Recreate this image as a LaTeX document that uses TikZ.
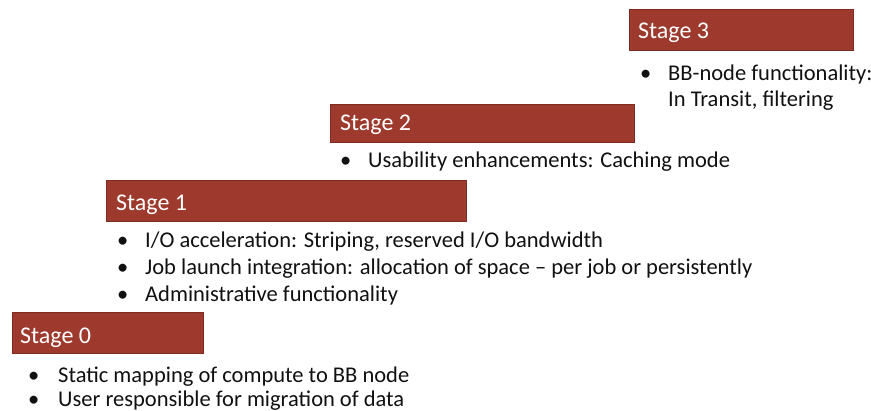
\documentclass[tikz,border=0pt]{standalone}
\usepackage{fontspec}
\setmainfont{Carlito}
\definecolor{boxred}{HTML}{9D3A2D}
\definecolor{boxedge}{HTML}{7E2C21}
\definecolor{txt}{HTML}{111111}
\begin{document}
\begin{tikzpicture}[x=1pt,y=1pt,
  stagebox/.style={draw=boxedge,line width=0.6pt,fill=boxred,inner sep=0pt,anchor=north west},
  stagelabel/.style={anchor=base west,inner sep=0pt,text=white,font=\fontsize{24}{28}\selectfont},
  bul/.style={anchor=base west,inner sep=0pt,text=txt,font=\fontsize{22.5}{26}\selectfont},
  bulletdot/.style={anchor=base west,inner sep=0pt,text=txt,font=\fontsize{22.5}{26}\selectfont}]
\useasboundingbox[fill=white] (0,0) rectangle (871,-411);
% Stage 3
\node[stagebox,minimum width=224,minimum height=41] (s3) at (629,-9) {};
\node[stagelabel] (s3t) at (638,-39) {Stage 3};
\node[bulletdot] (b3a) at (640,-81) {•};
\node[bul] (t3a) at (668,-81) {BB-node functionality:};
\node[bul] (t3b) at (668,-107) {In Transit, filtering};
% Stage 2
\node[stagebox,minimum width=304,minimum height=38] (s2) at (330,-104) {};
\node[stagelabel] (s2t) at (340,-131) {Stage 2};
\node[bulletdot] (b2a) at (340,-168) {•};
\node[bul] (t2a) at (368,-168) {Usability enhancements: Caching mode};
% Stage 1
\node[stagebox,minimum width=360,minimum height=41] (s1) at (106,-180) {};
\node[stagelabel] (s1t) at (116,-211) {Stage 1};
\node[bulletdot] (b1a) at (117,-248) {•};
\node[bul] (t1a) at (145,-248) {I/O acceleration: Striping, reserved I/O bandwidth};
\node[bulletdot] (b1b) at (117,-275) {•};
\node[bul] (t1b) at (145,-275) {Job launch integration: allocation of space – per job or persistently};
\node[bulletdot] (b1c) at (117,-302) {•};
\node[bul] (t1c) at (145,-302) {Administrative functionality};
% Stage 0
\node[stagebox,minimum width=191,minimum height=41] (s0) at (12,-312) {};
\node[stagelabel] (s0t) at (20,-344) {Stage 0};
\node[bulletdot] (b0a) at (28,-383) {•};
\node[bul] (t0a) at (58,-383) {Static mapping of compute to BB node};
\node[bulletdot] (b0b) at (28,-407) {•};
\node[bul] (t0b) at (58,-407) {User responsible for migration of data};
\end{tikzpicture}
\end{document}
